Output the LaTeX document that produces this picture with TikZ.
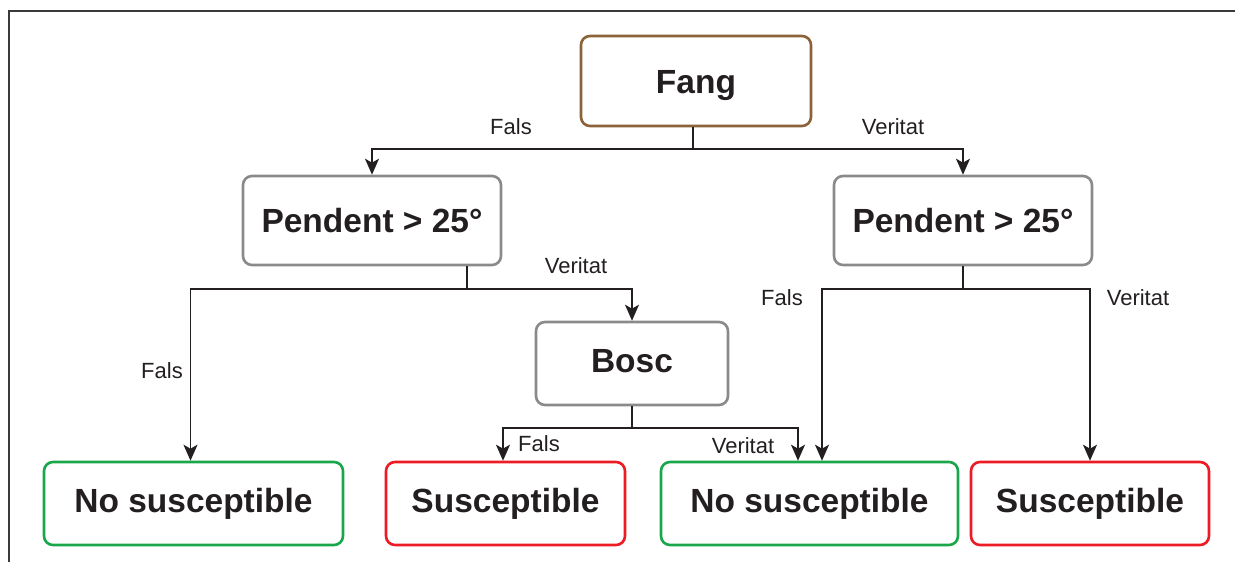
\documentclass[tikz,border=0pt]{standalone}
\usepackage{fontspec}
\setmainfont{Liberation Sans}
\usetikzlibrary{arrows.meta}
\definecolor{ink}{HTML}{231F20}
\definecolor{boxgray}{HTML}{8A8A8C}
\definecolor{boxbrown}{HTML}{8C6239}
\definecolor{boxgreen}{HTML}{1AA64A}
\definecolor{boxred}{HTML}{ED1C24}
\definecolor{framegray}{HTML}{3A3A3A}
\tikzset{
  box/.style={draw, line width=2.6pt, rounded corners=9pt, inner sep=0pt,
    font=\fontsize{33.5}{36}\selectfont\bfseries, text=ink, align=center,
    text height=24pt, text depth=0pt},
  raised/.style={text depth=7pt},
  graybox/.style={box, draw=boxgray},
  brownbox/.style={box, draw=boxbrown},
  greenbox/.style={box, draw=boxgreen, raised},
  redbox/.style={box, draw=boxred, raised},
  conn/.style={draw=ink, line width=1.8pt},
  arr/.style={conn, -{Stealth[length=16pt, width=14pt, inset=4pt]}},
  lbl/.style={font=\fontsize{22}{24}\selectfont, text=ink, inner sep=0pt},
}
\begin{document}
\begin{tikzpicture}[x=1pt, y=-1pt]
\useasboundingbox (0,0) rectangle (1235,562);
% frame
\draw[framegray, line width=2pt] (9,562) -- (9,11) -- (1235,11);

% boxes
\node[brownbox, minimum width=230pt, minimum height=90pt] (fang) at (696,81) {Fang};
\node[graybox, minimum width=258pt, minimum height=89pt] (pl) at (372,220.5) {Pendent > 25°};
\node[graybox, minimum width=258pt, minimum height=89pt] (pr) at (963,220.5) {Pendent > 25°};
\node[graybox, raised, minimum width=192pt, minimum height=83pt] (bosc) at (632,363.5) {Bosc};
\node[greenbox, minimum width=299pt, minimum height=83pt] (ns1) at (193.5,503.5) {No susceptible};
\node[redbox, minimum width=239pt, minimum height=83pt] (s1) at (505.5,503.5) {Susceptible};
\node[greenbox, minimum width=297pt, minimum height=83pt] (ns2) at (809.5,503.5) {No susceptible};
\node[redbox, minimum width=238pt, minimum height=83pt] (s2) at (1090,503.5) {Susceptible};

% Fang connectors
\draw[conn] ([xshift=-3pt]fang.south) -- ++(0,22) coordinate (fj);
\draw[arr] (fj) -| (pl.north);
\draw[arr] (fj) -| (pr.north);
\node[lbl] (l1) at (511,127) {Fals};
\node[lbl] (l2) at (893,127) {Veritat};

% left Pendent connectors
\draw[conn] ([xshift=95pt]pl.south) -- ++(0,23) coordinate (plj);
\draw[arr] (plj) -| ([xshift=-3pt]ns1.north);
\draw[arr] (plj) -| (bosc.north);
\node[lbl] (l3) at (576,266) {Veritat};
\node[lbl] (l4) at (162,371) {Fals};

% Bosc connectors
\draw[conn] (bosc.south) -- ++(0,22) coordinate (bj);
\draw[arr] (bj) -| ([xshift=-2.5pt]s1.north);
\draw[arr] (bj) -| ([xshift=-11.5pt]ns2.north);
\node[lbl] (l5) at (539,444) {Fals};
\node[lbl] (l6) at (743,446) {Veritat};

% right Pendent connectors
\draw[conn] (pr.south) -- ++(0,23) coordinate (prj);
\draw[arr] (prj) -| ([xshift=12.5pt]ns2.north);
\draw[arr] (prj) -| (s2.north);
\node[lbl] (l7) at (782,298) {Fals};
\node[lbl] (l8) at (1138,298) {Veritat};
\end{tikzpicture}
\end{document}
